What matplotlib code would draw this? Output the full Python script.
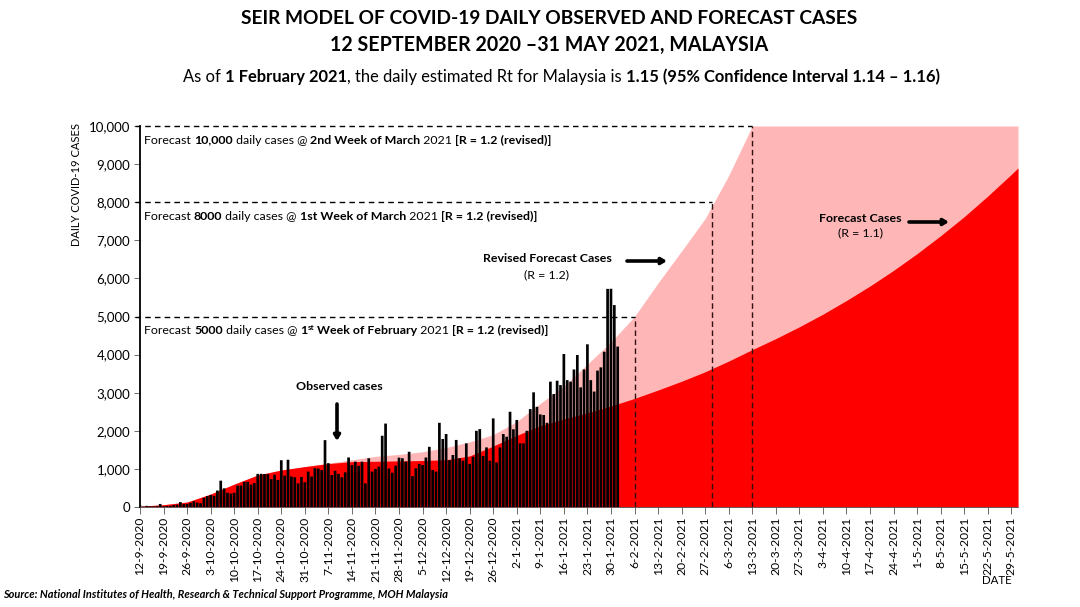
import matplotlib
matplotlib.use('Agg')
import matplotlib.pyplot as plt
import numpy as np
import pandas as pd

plt.rcParams['font.family'] = ['Lato', 'DejaVu Sans']

# Valeurs
observed_cases = [
    47, 11, 30, 20, 15, 21, 80, 20, 25, 30, 50, 60, 130, 75, 82, 110, 150, 115, 100, 240,
    287, 317, 293, 432, 691, 489, 374, 354, 374, 561, 563, 660, 660, 589, 629, 869, 871, 865, 862, 732,
    847, 710, 1228, 823, 1240, 800, 780, 620, 790, 650, 930, 800, 1020, 1010, 970, 1755,
    1150, 840, 950, 870, 780, 910, 1300, 1100, 1190, 1080, 1190, 620, 1280, 930, 1000, 1060, 1870, 2190,
    1010, 900, 1085, 1295, 1280, 1190, 1450, 810, 1015, 1130, 1100, 1300, 1580, 970, 930, 2210, 1785, 1915,
    1230, 1365, 1760, 1280, 1215, 1670, 1130, 1320, 2000, 2045, 1340, 1565, 1215, 2325, 1170, 1565, 1915, 1845,
    2500, 2040, 2285, 1670, 1670, 2000, 2570, 3010, 2630, 2430, 2415, 2210, 3290, 2965, 3315, 3200, 4015, 3330,
    3290, 3610, 3990, 3140, 3610, 4270, 3330, 3030, 3580, 3665, 4075, 5725, 5728, 5300, 4210,
]

tick_labels = [
    '12-9-2020', '19-9-2020', '26-9-2020', '3-10-2020', '10-10-2020', '17-10-2020', '24-10-2020',
    '31-10-2020', '7-11-2020', '14-11-2020', '21-11-2020', '28-11-2020', '5-12-2020', '12-12-2020',
    '19-12-2020', '26-12-2020', '2-1-2021', '9-1-2021', '16-1-2021', '23-1-2021', '30-1-2021',
    '6-2-2021', '13-2-2021', '20-2-2021', '27-2-2021', '6-3-2021', '13-3-2021', '20-3-2021',
    '27-3-2021', '3-4-2021', '10-4-2021', '17-4-2021', '24-4-2021', '1-5-2021', '8-5-2021',
    '15-5-2021', '22-5-2021', '29-5-2021',
]
forecast_dates = tick_labels + ['31-5-2021']

# R = 1.1, une valeur par semaine
forecast_r11 = [
    20, 60, 130, 340, 600, 840, 970, 1060, 1140, 1190, 1200, 1210, 1220, 1240, 1340, 1600, 1880, 2130, 2310,
    2470, 2650, 2850, 3070, 3300, 3550, 3830, 4130, 4420, 4730, 5060, 5420, 5800, 6210, 6650, 7120, 7620,
    8160, 8730, 8900,
]
# R = 1.2 (revised)
forecast_r12 = [
    20, 60, 130, 340, 600, 840, 970, 1060, 1150, 1240, 1330, 1380, 1450, 1560, 1710, 1900, 2240, 2720, 3170,
    3750, 4330, 5000, 5880, 6720, 7570, 8700, 10000, 10000, 10000, 10000, 10000, 10000, 10000, 10000, 10000,
    10000, 10000, 10000, 10000,
]

milestone_cases = [5000, 8000, 10000]
milestone_dates = ['6-2-2021', '1-3-2021', '13-3-2021']

y_ticks = [0, 1000, 2000, 3000, 4000, 5000, 6000, 7000, 8000, 9000, 10000]

W, H = 1080, 607


def day_number(labels):
    dates = pd.to_datetime(labels, format='%d-%m-%Y')
    return np.array((dates - pd.Timestamp(2020, 9, 12)).days)


def fx(x):
    return x / W


def fy(y):
    return 1 - y / H


fig = plt.figure(figsize=(W / 100, H / 100), dpi=100)
ax = fig.add_axes([fx(140), fy(507), (1018 - 140) / W, (507 - 126) / H])

fdays = day_number(forecast_dates)
ax.fill_between(fdays, forecast_r12, color='#ffb6b6', lw=0, zorder=1)
ax.fill_between(fdays, forecast_r11, color='#ff0000', lw=0, zorder=2)
ax.bar(np.arange(len(observed_cases)), observed_cases, width=0.8, color='black', snap=False, zorder=3)

for cases, date in zip(milestone_cases, milestone_dates):
    d = day_number([date])[0]
    ax.plot([-1.5, d], [cases, cases], color='black', lw=1, dashes=(4, 3), clip_on=False, zorder=4)
    ax.plot([d, d], [0, cases], color='#301010', lw=1, dashes=(4, 2.5), zorder=4)

ax.set_xlim(0, 261)
ax.set_ylim(0, 10000)
ax.set_yticks(y_ticks)
ax.set_yticklabels([f'{v:,}' for v in y_ticks], fontsize=9.5)
ax.set_xticks(day_number(tick_labels))
ax.set_xticklabels(tick_labels, rotation=90, fontsize=8.7)
ax.tick_params(axis='y', length=4, width=0.6, color='#555555', pad=3)
ax.tick_params(axis='x', length=5, width=0.6, color='#555555', pad=2)
ax.spines['top'].set_visible(False)
ax.spines['right'].set_visible(False)
ax.spines['left'].set_linewidth(1.3)
ax.spines['bottom'].set_linewidth(0.6)
ax.spines['bottom'].set_color('#555555')

fig.text(fx(76), fy(185), 'DAILY COVID-19 CASES', rotation=90, ha='center', va='center', fontsize=8)
fig.text(fx(997), fy(581), 'DATE', ha='center', va='center', fontsize=8.3)


def rich_text(x, y, runs, size):
    # morceaux de texte normal / gras posés à la suite, x et y en pixels
    renderer = fig.canvas.get_renderer()
    for run in runs:
        txt, bold = run[0], run[1]
        sup = len(run) > 2
        t = fig.text(fx(x), fy(y - (3 if sup else 0)), txt, fontsize=size * (0.65 if sup else 1),
                     fontweight='bold' if bold else 'normal', ha='left', va='center')
        x = x + t.get_window_extent(renderer).width


note_size = 8.95
rich_text(144, 140, [('Forecast ', False), ('10,000', True), (' daily cases @ ', False),
                     ('2nd Week of March', True), (' 2021 ', False), ('[R = 1.2 (revised)]', True)], note_size)
rich_text(144, 216, [('Forecast ', False), ('8000', True), (' daily cases @ ', False),
                     ('1st Week of March', True), (' 2021 ', False), ('[R = 1.2 (revised)]', True)], note_size)
rich_text(144, 330, [('Forecast ', False), ('5000', True), (' daily cases @ ', False), ('1', True),
                     ('st', True, 'sup'), (' Week of February', True), (' 2021 ', False),
                     ('[R = 1.2 (revised)]', True)], note_size)

fig.text(fx(339), fy(387), 'Observed cases', fontsize=8.9, fontweight='bold', ha='center', va='center')
fig.text(fx(547), fy(259), 'Revised Forecast Cases', fontsize=8.9, fontweight='bold', ha='center', va='center')
fig.text(fx(547), fy(275), '(R = 1.2)', fontsize=8.9, ha='center', va='center')
fig.text(fx(860), fy(218), 'Forecast Cases', fontsize=8.9, fontweight='bold', ha='center', va='center')
fig.text(fx(860), fy(233), '(R = 1.1)', fontsize=8.9, ha='center', va='center')

for x0, y0, x1, y1 in [(337, 404, 337, 441), (627, 261, 667, 261), (909, 222, 949, 222)]:
    ax.annotate('', xy=(fx(x1), fy(y1)), xytext=(fx(x0), fy(y0)), xycoords='figure fraction',
                textcoords='figure fraction', zorder=6,
                arrowprops=dict(arrowstyle='-|>,head_width=0.18,head_length=0.3', color='black', lw=2.6,
                                shrinkA=0, shrinkB=0))

fig.text(fx(549), fy(18), 'SEIR MODEL OF COVID-19 DAILY OBSERVED AND FORECAST CASES', fontsize=13.8,
         fontweight='bold', ha='center', va='center')
fig.text(fx(549), fy(45), '12 SEPTEMBER 2020 \u201331 MAY 2021, MALAYSIA', fontsize=14.1,
         fontweight='bold', ha='center', va='center')
rich_text(183, 77, [('As of ', False), ('1 February 2021', True), (', the daily estimated Rt for Malaysia is ', False),
                    ('1.15 (95% Confidence Interval 1.14 \u2013 1.16)', True)], 11.9)

fig.text(fx(3), fy(595), 'Source: National Institutes of Health, Research & Technical Support Programme, MOH Malaysia',
         fontsize=7.95, fontweight='bold', fontstyle='italic', ha='left', va='center')

fig.savefig('out.png', dpi=100)
